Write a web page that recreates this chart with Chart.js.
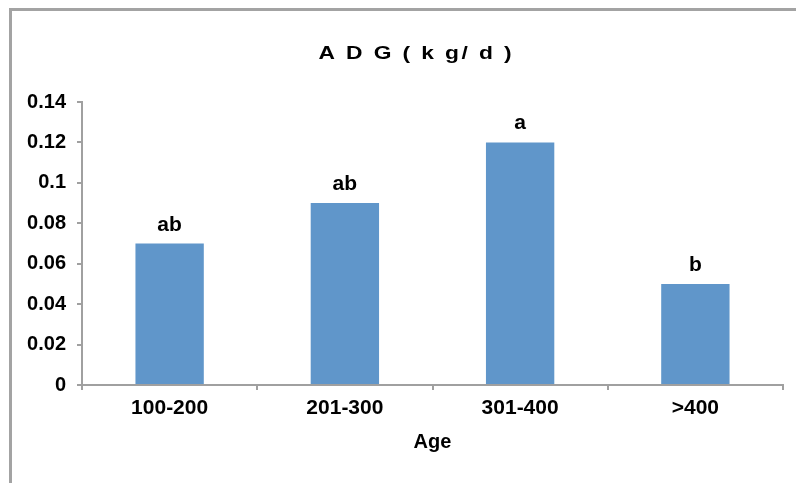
<!DOCTYPE html>
<html>
<head>
<meta charset="utf-8">
<script src="https://cdn.jsdelivr.net/npm/chart.js@4.4.1/dist/chart.umd.min.js"></script>
<style>
html, body { margin: 0; padding: 0; background: #fff; }
#wrap { position: relative; width: 796px; height: 483px; overflow: hidden; }
#frame { position: absolute; left: 9px; top: 8px; width: 820px; height: 520px;
  border-left: 3px solid #a3a3a3; border-top: 3px solid #a3a3a3; }
canvas { position: absolute; left: 0; top: 0; }
</style>
</head>
<body>
<div id="wrap"><div id="frame"></div><canvas id="chart" width="796" height="483"></canvas></div>
<script>
// data
var ageGroups = ["100-200", "201-300", "301-400", ">400"];
var adgValues = [0.07, 0.09, 0.12, 0.05];
var groupLetters = ["ab", "ab", "a", "b"];
var chartTitle = "A D G ( k g/ d )";
var xTitle = "Age";

var FONT = '"Liberation Sans", Arial, sans-serif';
var AXIS = '#a0a0a0';

// title drawn by hand: wide, stretched letters like the original
var titlePlugin = {
  id: 'spacedTitle',
  afterDraw: function (chart) {
    var ctx = chart.ctx;
    var sx = 1.2;
    ctx.save();
    ctx.font = 'bold 19px ' + FONT;
    ctx.letterSpacing = '2px';
    ctx.fillStyle = '#000';
    ctx.textAlign = 'left';
    ctx.textBaseline = 'alphabetic';
    var w = (ctx.measureText(chartTitle).width - 2) * sx;
    ctx.translate(415 - w / 2, 59);
    ctx.scale(sx, 1);
    ctx.fillText(chartTitle, 0, 0);
    ctx.restore();
  }
};

// letters over the bars
var letterPlugin = {
  id: 'barLetters',
  afterDatasetsDraw: function (chart) {
    var ctx = chart.ctx;
    var meta = chart.getDatasetMeta(0);
    ctx.save();
    ctx.font = 'bold 21px ' + FONT;
    ctx.fillStyle = '#000';
    ctx.textAlign = 'center';
    ctx.textBaseline = 'alphabetic';
    meta.data.forEach(function (bar, i) {
      ctx.fillText(groupLetters[i], bar.x, bar.y - 13);
    });
    ctx.restore();
  }
};

var ctx = document.getElementById('chart');

var chartGraph = new Chart(ctx, {
  type: 'bar',
  data: {
    labels: ageGroups,
    datasets: [{
      label: 'ADG (kg/d)',
      data: adgValues,
      backgroundColor: '#6096ca',
      borderWidth: 0,
      barPercentage: 0.39,
      categoryPercentage: 1
    }]
  },
  options: {
    responsive: false,
    animation: false,
    layout: { padding: { top: 102, right: 13, bottom: 0, left: 0 } },
    plugins: {
      legend: { display: false },
      title: { display: false },
      tooltip: { enabled: false }
    },
    scales: {
      x: {
        grid: { offset: true, drawOnChartArea: false, tickLength: 5, color: AXIS, lineWidth: 2 },
        border: { color: AXIS, width: 2 },
        ticks: { color: '#000', padding: 6, font: { family: FONT, size: 21, weight: 'bold' } },
        title: {
          display: true, text: xTitle, color: '#000',
          padding: { top: 0, bottom: 29 },
          font: { family: FONT, size: 20, weight: 'bold' }
        },
        afterFit: function (s) { s.height = 98; }
      },
      y: {
        min: 0,
        max: 0.14,
        grid: { drawOnChartArea: false, tickLength: 5, color: AXIS, lineWidth: 2 },
        border: { color: AXIS, width: 2 },
        ticks: {
          stepSize: 0.02,
          color: '#000',
          padding: 11,
          font: { family: FONT, size: 20, weight: 'bold' },
          callback: function (v) { return String(Math.round(v * 100) / 100); }
        },
        afterFit: function (s) { s.width = 82; }
      }
    }
  },
  plugins: [titlePlugin, letterPlugin]
});
</script>
</body>
</html>
